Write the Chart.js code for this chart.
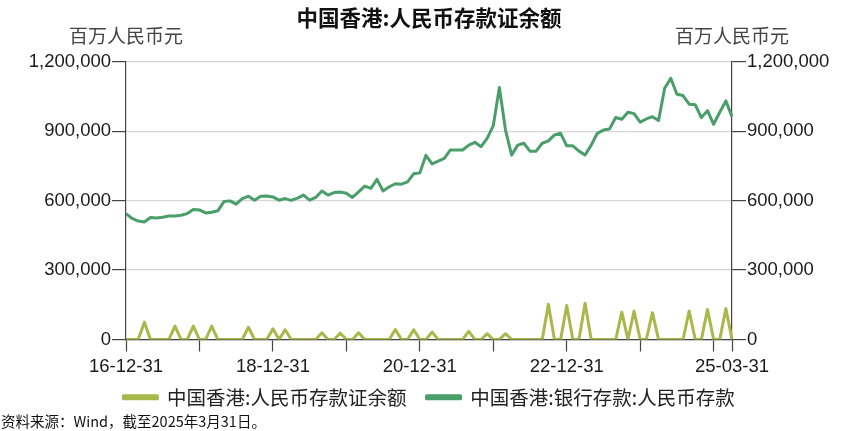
<!DOCTYPE html>
<html>
<head>
<meta charset="utf-8">
<script src="https://cdn.jsdelivr.net/npm/chart.js@4/dist/chart.umd.min.js"></script>
<style>
  html, body { margin: 0; padding: 0; background: #fff; }
  #wrap { width: 858px; height: 431px; }
</style>
</head>
<body>
<div id="wrap"><canvas id="chart" width="858" height="431"></canvas></div>
<script>
// 数据：百万人民币元，月末
const months = [
  '2016-12',
  '2017-01', '2017-02', '2017-03', '2017-04', '2017-05', '2017-06', '2017-07', '2017-08', '2017-09', '2017-10', '2017-11', '2017-12',
  '2018-01', '2018-02', '2018-03', '2018-04', '2018-05', '2018-06', '2018-07', '2018-08', '2018-09', '2018-10', '2018-11', '2018-12',
  '2019-01', '2019-02', '2019-03', '2019-04', '2019-05', '2019-06', '2019-07', '2019-08', '2019-09', '2019-10', '2019-11', '2019-12',
  '2020-01', '2020-02', '2020-03', '2020-04', '2020-05', '2020-06', '2020-07', '2020-08', '2020-09', '2020-10', '2020-11', '2020-12',
  '2021-01', '2021-02', '2021-03', '2021-04', '2021-05', '2021-06', '2021-07', '2021-08', '2021-09', '2021-10', '2021-11', '2021-12',
  '2022-01', '2022-02', '2022-03', '2022-04', '2022-05', '2022-06', '2022-07', '2022-08', '2022-09', '2022-10', '2022-11', '2022-12',
  '2023-01', '2023-02', '2023-03', '2023-04', '2023-05', '2023-06', '2023-07', '2023-08', '2023-09', '2023-10', '2023-11', '2023-12',
  '2024-01', '2024-02', '2024-03', '2024-04', '2024-05', '2024-06', '2024-07', '2024-08', '2024-09', '2024-10', '2024-11', '2024-12',
  '2025-01', '2025-02', '2025-03'
];

// 中国香港:人民币存款证余额
const cdBalance = [
  0,
  0, 0, 75000, 0, 0, 0, 0, 58000, 0, 0, 58000, 0,
  0, 58000, 0, 0, 0, 0, 0, 53000, 0, 0, 0, 46000,
  0, 42000, 0, 0, 0, 0, 0, 29000, 0, 0, 28000, 0,
  0, 29000, 0, 0, 0, 0, 0, 43000, 0, 0, 42000, 0,
  0, 32000, 0, 0, 0, 0, 0, 35000, 0, 0, 25000, 0,
  0, 25000, 0, 0, 0, 0, 0, 0, 152000, 0, 0, 147000,
  0, 0, 157000, 0, 0, 0, 0, 0, 118000, 0, 123000, 0,
  0, 116000, 0, 0, 0, 0, 0, 123000, 0, 0, 130000, 0,
  0, 134000, 0
];

// 中国香港:银行存款:人民币存款
const bankDeposits = [
  544000,
  523000, 512000, 508000, 527000, 525000, 528000, 534000, 534000, 537000, 544000, 562000, 560000,
  547000, 550000, 556000, 596000, 599000, 585000, 609000, 619000, 602000, 619000, 620000, 616000,
  602000, 609000, 601000, 611000, 624000, 602000, 614000, 642000, 624000, 635000, 637000, 632000,
  614000, 638000, 663000, 653000, 692000, 642000, 660000, 673000, 671000, 681000, 716000, 720000,
  796000, 759000, 771000, 783000, 819000, 819000, 819000, 840000, 852000, 833000, 869000, 924000,
  1089000, 905000, 797000, 840000, 848000, 814000, 814000, 848000, 858000, 884000, 891000, 837000,
  837000, 814000, 797000, 840000, 891000, 905000, 910000, 959000, 952000, 982000, 976000, 939000,
  953000, 963000, 946000, 1086000, 1129000, 1060000, 1054000, 1017000, 1014000, 959000, 989000, 930000,
  982000, 1031000, 963000
];

const tickMonths = ['2016-12', '2018-12', '2020-12', '2022-12', '2025-03'];
const tickLabels = ['16-12-31', '18-12-31', '20-12-31', '22-12-31', '25-03-31'];
const yTicks = [0, 300000, 600000, 900000, 1200000];

const titleText = '中国香港:人民币存款证余额';
const unitText = '百万人民币元';
const sourceText = '资料来源：Wind，截至2025年3月31日。';

const cjk = '"Noto Sans CJK SC", sans-serif';
const latin = '"Liberation Sans", Arial, sans-serif';
const olive = '#A9B84A';
const green = '#4A9E6A';

// 单位与资料来源
const extraText = {
  id: 'extraText',
  afterLayout(chart) {
    // 图例上移，使其紧贴横轴标签
    const lg = chart.legend;
    if (lg) {
      lg.top -= 14;
      lg.bottom -= 14;
    }
  },
  afterDraw(chart) {
    const {ctx, scales} = chart;
    ctx.save();
    ctx.font = '19px ' + cjk;
    ctx.fillStyle = '#444';
    ctx.textAlign = 'center';
    ctx.textBaseline = 'middle';
    ctx.fillText(unitText, scales.y.right, 36);
    ctx.fillText(unitText, scales.y1.left, 36);
    ctx.font = '14.5px ' + cjk;
    ctx.fillStyle = '#111';
    ctx.textAlign = 'left';
    ctx.fillText(sourceText, 1, 421);
    ctx.restore();
  }
};

const yAxis = (position) => ({
  type: 'linear',
  position: position,
  min: 0,
  max: 1200000,
  afterBuildTicks: scale => { scale.ticks = yTicks.map(v => ({value: v})); },
  afterFit: scale => { scale.width = 126; },
  border: {display: true, color: '#444', width: 1.2},
  grid: {
    display: true,
    drawOnChartArea: position === 'left',
    color: '#d8d8d8',
    lineWidth: 1.2,
    borderDash: [5, 4],
    tickLength: 14,
    tickColor: '#444',
    tickBorderDash: [],
    tickWidth: 1.2
  },
  ticks: {
    padding: 1,
    color: '#1a1a1a',
    font: {family: latin, size: 18.5},
    callback: v => v.toLocaleString('en-US')
  }
});

new Chart(document.getElementById('chart'), {
  type: 'line',
  data: {
    labels: months,
    datasets: [
      {
        label: '中国香港:人民币存款证余额',
        data: cdBalance,
        borderColor: olive,
        backgroundColor: olive,
        borderWidth: 3,
        pointRadius: 0,
        tension: 0,
        borderJoinStyle: 'round'
      },
      {
        label: '中国香港:银行存款:人民币存款',
        data: bankDeposits,
        borderColor: green,
        backgroundColor: green,
        borderWidth: 3,
        pointRadius: 0,
        tension: 0,
        borderJoinStyle: 'round'
      }
    ]
  },
  options: {
    responsive: false,
    animation: false,
    layout: {padding: {top: 0, left: 0, right: 0, bottom: 0}},
    plugins: {
      title: {
        display: true,
        text: titleText,
        color: '#111',
        font: {family: cjk, size: 21.5, weight: 'bold'},
        padding: {top: 5, bottom: 31}
      },
      legend: {
        position: 'bottom',
        labels: {
          boxWidth: 34,
          boxHeight: 3,
          padding: 20,
          color: '#222',
          font: {family: cjk, size: 19.5}
        }
      },
      tooltip: {enabled: false}
    },
    scales: {
      x: {
        type: 'category',
        afterFit: scale => { scale.height = 42; },
        border: {display: true, color: '#444', width: 1.2},
        grid: {
          drawOnChartArea: false,
          tickLength: 12,
          tickColor: '#444',
          tickWidth: 1.2
        },
        ticks: {
          autoSkip: false,
          maxRotation: 0,
          padding: 4,
          color: '#1a1a1a',
          font: {family: latin, size: 18.5},
          callback: function (value, index) {
            const m = months[index];
            const k = tickMonths.indexOf(m);
            if (k >= 0) return tickLabels[k];
            if (m.endsWith('-12')) return '';
            return null;
          }
        }
      },
      y: yAxis('left'),
      y1: yAxis('right')
    }
  },
  plugins: [extraText]
});
</script>
</body>
</html>
